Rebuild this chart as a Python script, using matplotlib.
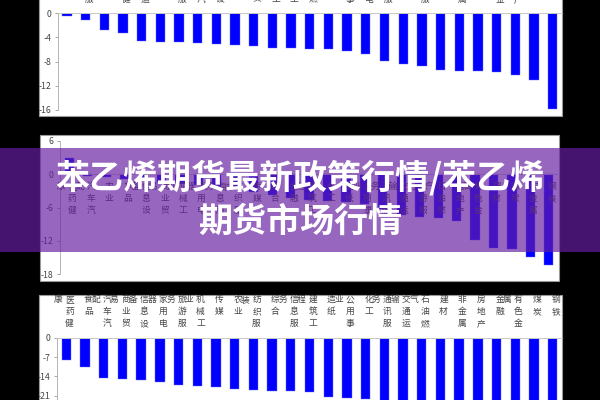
import numpy as np
import matplotlib.pyplot as plt
from matplotlib.patches import Rectangle

plt.rcParams['font.family'] = ['Noto Sans CJK SC', 'DejaVu Sans']

W, H = 600, 400

# ================= 数据 =================
# 上图（涨跌幅，%）
names_top = ['煤炭', '旅游服务', '传媒', '医药健康', '交通运输', '农业', '纺织服装',
             '汽车汽配', '信息设备', '综合', '商业贸易', '机械工业', '建筑工程',
             '石油燃气', '化工', '公用事业', '家用电器', '通讯服务', '建材',
             '信息服务', '造纸', '非金属', '金融', '有色金属', '房地产', '食品', '钢铁']
vals_top = [-0.4, -1.1, -2.8, -3.3, -4.6, -4.7, -4.8, -4.9, -5.1, -5.3, -5.5, -5.7, -5.7,
            -5.9, -6.0, -6.3, -6.7, -7.9, -8.4, -8.8, -9.4, -9.6, -9.6, -9.7, -10.2,
            -11.1, -15.9]

# 中图
names_mid = ['医药健康', '汽车汽配', '农业', '食品', '信息设备', '商业贸易', '机械工业',
             '家用电器', '信息服务', '纺织服装', '传媒', '综合', '金融', '建筑工程',
             '化工', '造纸', '公用事业', '通讯服务', '交通运输', '旅游服务', '石油燃气',
             '房地产', '有色金属', '建材', '煤炭', '非金属', '钢铁']
vals_mid = [3.0, -0.3, -0.5, -0.8, -1.1, -1.4, -1.7, -2.0, -2.3, -2.7, -3.2, -3.7, -4.3,
            -4.6, -4.8, -5.0, -5.3, -6.2, -7.3, -7.6, -7.9, -8.4, -11.8, -13.2, -13.5,
            -14.8, -16.3]

# 下图
names_bot = ['医药健康', '食品', '汽车汽配', '商业贸易', '信息设备', '家用电器', '旅游服务',
             '机械工业', '传媒', '农业', '纺织服装', '综合', '信息服务', '建筑工程',
             '造纸', '公用事业', '化工', '通讯服务', '交通运输', '石油燃气', '建材',
             '非金属', '房地产', '金融', '有色金属', '煤炭', '钢铁']
vals_bot = [-7.9, -10.7, -14.4, -14.8, -15.2, -16.1, -17.1, -17.4, -17.7, -18.5, -19.0,
            -19.3, -19.4, -19.5, -21.5, -21.9, -22.1, -23.0, -23.5, -24.0, -24.8, -25.3,
            -26.0, -26.8, -27.5, -29.0, -31.0]

title_line1 = '苯乙烯期货最新政策行情/苯乙烯'
title_line2 = '期货市场行情'

BAR_COLOR = '#0000FF'
LABEL_COLOR = '#444444'


# ================= 工具函数 =================
def px_box(x0, y0, x1, y1):
    # 像素框（左上原点） -> figure 坐标
    return [x0 / W, 1 - y1 / H, (x1 - x0) / W, (y1 - y0) / H]


def panel_bg(fig, x0, y0, x1, y1):
    l, b, w, h = px_box(x0, y0, x1, y1)
    fig.add_artist(Rectangle((l, b), w, h, transform=fig.transFigure,
                             facecolor='white', edgecolor='#9a9a9a',
                             linewidth=0.8, zorder=-2))


def vertical_labels(ax, names, above):
    # 竖排标签：右列前三字，余下的字放在左列
    for i, name in enumerate(names):
        cols = [(0.17, name[:3]), (-0.43, name[3:])]
        for dx, chars in cols:
            for r, ch in enumerate(chars):
                if above:
                    off = (38 - 12 * r) * 0.72
                    xy, coords = (i + dx, 1.0), ('data', 'axes fraction')
                else:
                    off = -(12 + 12 * r) * 0.72
                    xy, coords = (i + dx, 0.0), 'data'
                ax.annotate(ch, xy=xy, xycoords=coords, xytext=(0, off),
                            textcoords='offset points', ha='center', va='center',
                            fontsize=6.3, color=LABEL_COLOR, annotation_clip=False)


def style_axis(ax, ticks):
    ax.set_facecolor('none')
    for s in ['right', 'bottom']:
        ax.spines[s].set_visible(False)
    ax.spines['left'].set_color('#b5b5b5')
    ax.spines['left'].set_linewidth(0.7)
    ax.spines['top'].set_color('#c8c8c8')
    ax.spines['top'].set_linewidth(0.7)
    ax.set_yticks(ticks)
    ax.set_yticklabels([str(t) for t in ticks])
    ax.set_xticks([])
    ax.tick_params(axis='y', length=2.5, width=0.6, color='#999999',
                   labelsize=6.3, labelcolor=LABEL_COLOR, pad=2)


# ================= 画图 =================
fig = plt.figure(figsize=(6, 4), dpi=100, facecolor='black')

# 白色底板
panel_bg(fig, 39, -10, 562, 116)
panel_bg(fig, 40, 135, 559, 281)
panel_bg(fig, 39, 295, 562, 430)

# ---------- 上图 ----------
ax1 = fig.add_axes(px_box(57.5, 13.3, 562, 109.7))
x = np.arange(len(vals_top))
ax1.bar(x, vals_top, width=0.5, color=BAR_COLOR, edgecolor='#6a6aff', linewidth=0.3)
ax1.set_xlim(-0.5, len(vals_top) - 0.5)
ax1.set_ylim(-16, 0)
style_axis(ax1, [0, -4, -8, -12, -16])
vertical_labels(ax1, names_top, above=True)

# ---------- 中图 ----------
ax2 = fig.add_axes(px_box(60, 141, 558, 274.3))
x = np.arange(len(vals_mid))
ax2.bar(x, vals_mid, width=0.5, color=BAR_COLOR, edgecolor='#6a6aff', linewidth=0.3)
ax2.set_xlim(-0.5, len(vals_mid) - 0.5)
ax2.set_ylim(-18, 6)
style_axis(ax2, [6, 0, -6, -12, -18])
ax2.spines['top'].set_visible(False)
ax2.axhline(0, color='#c8c8c8', linewidth=0.7)
vertical_labels(ax2, names_mid, above=False)

# ---------- 下图 ----------
ax3 = fig.add_axes(px_box(57, 337.7, 562, 434.6))
x = np.arange(len(vals_bot))
ax3.bar(x, vals_bot, width=0.5, color=BAR_COLOR, edgecolor='#6a6aff', linewidth=0.3)
ax3.set_xlim(-0.5, len(vals_bot) - 0.5)
ax3.set_ylim(-35, 0)
style_axis(ax3, [0, -7, -14, -21, -28, -35])
vertical_labels(ax3, names_bot, above=True)

# ---------- 紫色标题横幅 ----------
l, b, w, h = px_box(0, 148, 600, 252)
fig.add_artist(Rectangle((l, b), w, h, transform=fig.transFigure,
                         facecolor=(0.40, 0.12, 0.64), alpha=0.68,
                         edgecolor='none', zorder=5))
fig.text(0.5, 1 - 178 / H, title_line1, ha='center', va='center', fontsize=24.5,
         fontweight='bold', color='white', zorder=6)
fig.text(0.5, 1 - 221 / H, title_line2, ha='center', va='center', fontsize=24.5,
         fontweight='bold', color='white', zorder=6)

fig.savefig('out.png', dpi=100, facecolor='black')
